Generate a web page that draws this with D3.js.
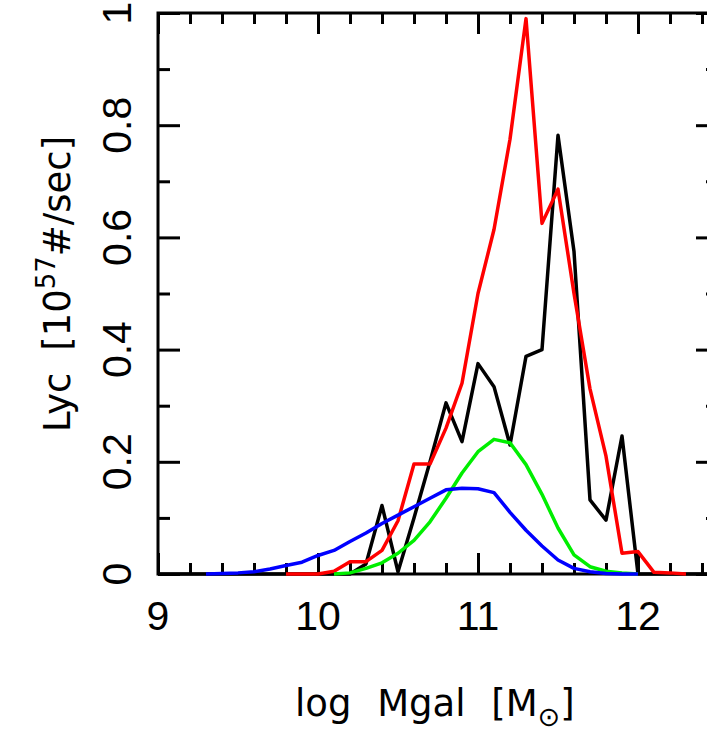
<!DOCTYPE html>
<html>
<head>
<meta charset="utf-8">
<script src="https://cdn.jsdelivr.net/npm/d3@7"></script>
<style>
  body { margin: 0; background: #fff; }
  svg { display: block; }
  .tick line { stroke: #000; stroke-width: 3; }
  .series { fill: none; stroke-width: 3.5; stroke-linejoin: round; }
  .tick-label { font-family: 'Liberation Sans', Arial, sans-serif; font-size: 41px; fill: #000; }
  .axis-title { font-family: 'DejaVu Sans', sans-serif; font-size: 37px; fill: #000; }
</style>
</head>
<body>
<svg id="chart" width="707" height="734"></svg>
<script>
'use strict'

// log stellar mass bins
const logM = [
  9.0, 9.1, 9.2, 9.3, 9.4, 9.5, 9.6, 9.7, 9.8, 9.9,
  10.0, 10.1, 10.2, 10.3, 10.4, 10.5, 10.6, 10.7, 10.8, 10.9,
  11.0, 11.1, 11.2, 11.3, 11.4, 11.5, 11.6, 11.7, 11.8, 11.9,
  12.0, 12.1, 12.2, 12.3, 12.4, 12.5
]

// Lyc in units of 1e57 #/sec, null where a series is not drawn
const lycBlack = [
  0, 0, 0, 0, 0, 0, 0, 0, 0, 0,
  0, 0, 0, 0.018, 0.122, 0.004, 0.10, 0.20, 0.305, 0.236,
  0.375, 0.334, 0.23, 0.388, 0.40, 0.782, 0.575, 0.132, 0.096, 0.246,
  0, 0, 0, 0, 0, 0
]
const lycRed = [
  null, null, null, null, null, null, null, null, 0, 0,
  0, 0.005, 0.022, 0.022, 0.042, 0.095, 0.196, 0.196, 0.26, 0.34,
  0.50, 0.614, 0.775, 0.99, 0.625, 0.686, 0.50, 0.33, 0.21, 0.037,
  0.04, 0.003, 0.002, 0, null, null
]
const lycGreen = [
  null, null, null, null, null, null, null, null, null, null,
  null, 0, 0.002, 0.01, 0.02, 0.037, 0.06, 0.093, 0.135, 0.18,
  0.218, 0.24, 0.234, 0.195, 0.142, 0.082, 0.034, 0.013, 0.005, 0.002,
  0, null, null, null, null, null
]
const lycBlue = [
  null, null, null, 0, 0.001, 0.002, 0.004, 0.009, 0.015, 0.021,
  0.033, 0.042, 0.058, 0.073, 0.09, 0.105, 0.12, 0.135, 0.15, 0.153,
  0.152, 0.145, 0.11, 0.078, 0.05, 0.025, 0.01, 0.004, 0.001, 0,
  0, null, null, null, null, null
]

const seriesList = [
  { name: 'black', color: '#000000', values: lycBlack },
  { name: 'red', color: '#ff0000', values: lycRed },
  { name: 'green', color: '#00ee00', values: lycGreen },
  { name: 'blue', color: '#0000ff', values: lycBlue }
]

const xMajorTicks = [9, 10, 11, 12]
const xMinorTicks = [9.2, 9.4, 9.6, 9.8, 10.2, 10.4, 10.6, 10.8, 11.2, 11.4, 11.6, 11.8, 12.2, 12.4]
const yMajorTicks = [0, 0.2, 0.4, 0.6, 0.8, 1]
const yMinorTicks = [0.1, 0.3, 0.5, 0.7, 0.9]
const xTickLabels = ['9', '10', '11', '12']
const yTickLabels = ['0', '0.2', '0.4', '0.6', '0.8', '1']

const svg = d3.select('#chart')

// the plot box runs past the right edge of the picture, as in the original
const x = d3.scaleLinear().domain([9, 12.5]).range([158, 718])
const y = d3.scaleLinear().domain([0, 1]).range([574, 13])

const noDomain = g => g.select('.domain').remove()

const addTicks = (axis, values, size, transform) => {
  svg.append('g')
    .attr('transform', transform)
    .call(axis.tickValues(values).tickSize(-size).tickFormat(''))
    .call(noDomain)
}

// ticks on all four sides point inward
addTicks(d3.axisBottom(x), xMajorTicks, 21, `translate(0,${y(0)})`)
addTicks(d3.axisBottom(x), xMinorTicks, 11, `translate(0,${y(0)})`)
addTicks(d3.axisTop(x), xMajorTicks, 21, `translate(0,${y(1)})`)
addTicks(d3.axisTop(x), xMinorTicks, 11, `translate(0,${y(1)})`)
addTicks(d3.axisLeft(y), yMajorTicks, 22, `translate(${x(9)},0)`)
addTicks(d3.axisLeft(y), yMinorTicks, 12, `translate(${x(9)},0)`)
addTicks(d3.axisRight(y), yMajorTicks, 22, `translate(${x(12.5)},0)`)
addTicks(d3.axisRight(y), yMinorTicks, 12, `translate(${x(12.5)},0)`)

svg.append('rect')
  .attr('x', x(9))
  .attr('y', y(1))
  .attr('width', x(12.5) - x(9))
  .attr('height', y(0) - y(1))
  .attr('fill', 'none')
  .attr('stroke', '#000')
  .attr('stroke-width', 3)

const line = d3.line()
  .defined(d => d[1] !== null)
  .x(d => x(d[0]))
  .y(d => y(d[1]))

svg.selectAll('.series')
  .data(seriesList)
  .enter()
  .append('path')
  .attr('class', d => `series series-${d.name}`)
  .attr('stroke', d => d.color)
  .attr('d', d => line(logM.map((m, i) => [m, d.values[i]])))

svg.selectAll('.x-label')
  .data(xMajorTicks)
  .enter()
  .append('text')
  .attr('class', 'tick-label x-label')
  .attr('x', d => x(d))
  .attr('y', 630)
  .attr('text-anchor', 'middle')
  .text((d, i) => xTickLabels[i])

svg.selectAll('.y-label')
  .data(yMajorTicks)
  .enter()
  .append('text')
  .attr('class', 'tick-label y-label')
  .attr('transform', d => `translate(131,${y(d)}) rotate(-90)`)
  .attr('text-anchor', 'middle')
  .text((d, i) => yTickLabels[i])

const xTitle = svg.append('text')
  .attr('class', 'axis-title')
  .attr('x', 295)
  .attr('y', 716)
  .style('word-spacing', '14px')
xTitle.append('tspan').text('log Mgal [M')
xTitle.append('tspan').attr('dy', 10).attr('font-size', 27).text('\u2299')
xTitle.append('tspan').attr('dy', -10).text(']')

const yTitle = svg.append('text')
  .attr('class', 'axis-title')
  .attr('transform', 'translate(70,432) rotate(-90)')
  .style('word-spacing', '10px')
yTitle.append('tspan').text('Lyc [10')
yTitle.append('tspan').attr('dy', -15).attr('font-size', 26).text('57')
yTitle.append('tspan').attr('dy', 15).text('#/sec]')
</script>
</body>
</html>
